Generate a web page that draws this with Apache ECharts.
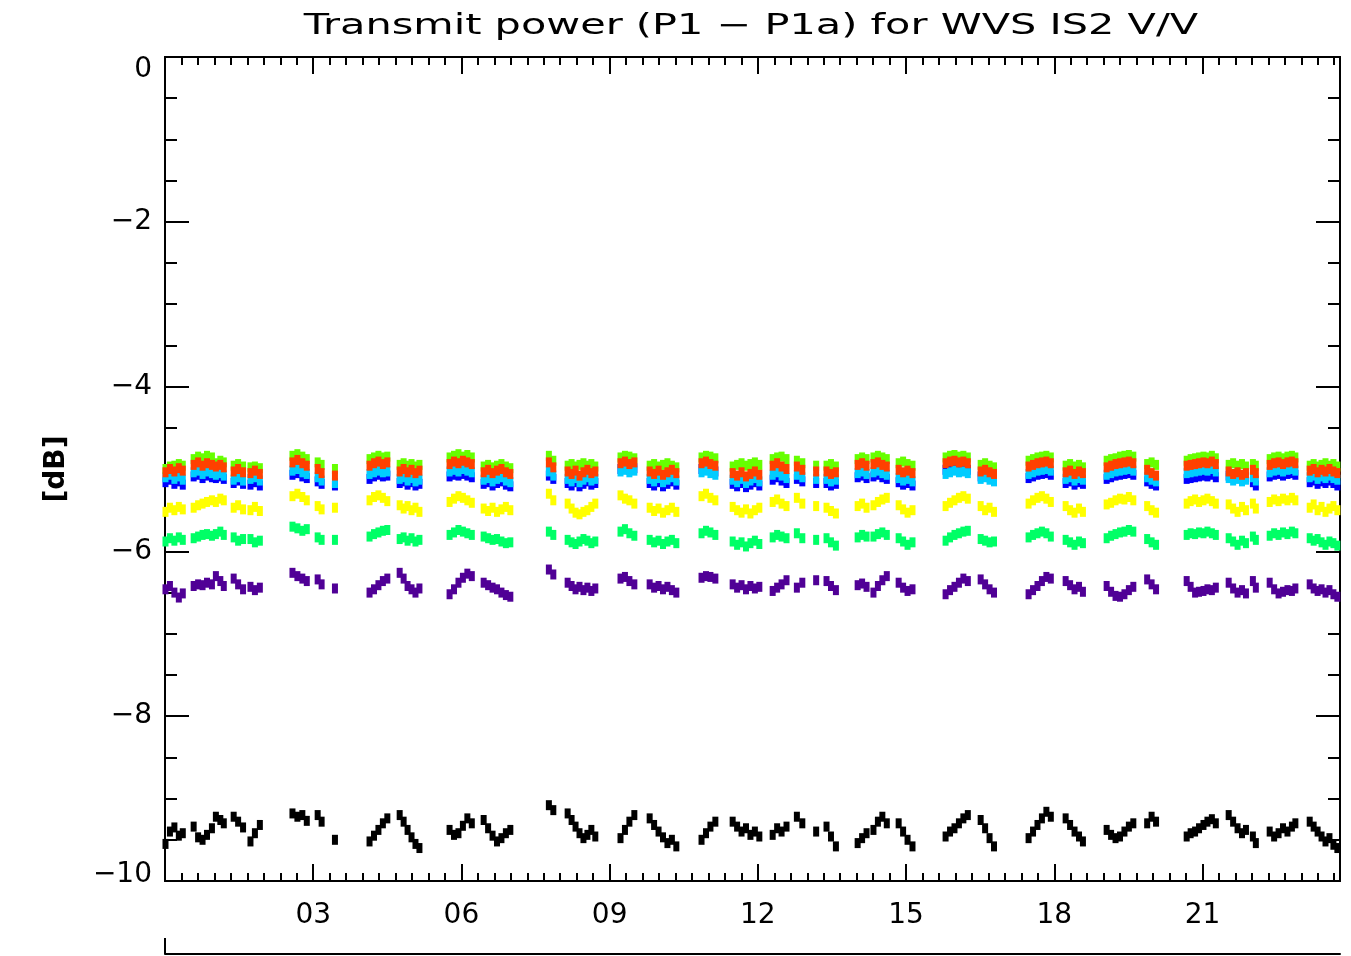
<!DOCTYPE html>
<html>
<head>
<meta charset="utf-8">
<script src="https://cdn.jsdelivr.net/npm/echarts@6/dist/echarts.min.js"></script>
<style>
  html, body { margin: 0; padding: 0; background: #ffffff; }
  #chart { width: 1351px; height: 956px; }
</style>
</head>
<body>
<div id="chart"></div>
<script>
// Sample times (hours of day), one row per pass
const hours = [
  0.01,0.10,0.19,0.28,0.36,
  0.58,0.67,0.76,0.85,0.95,
  1.03,1.12,1.19,
  1.39,1.48,1.58,
  1.73,1.82,1.92,
  2.58,2.68,2.78,2.87,
  3.09,3.17,
  3.44,
  4.14,4.23,4.32,4.41,4.50,
  4.75,4.83,4.91,4.99,5.07,5.15,
  5.76,5.85,5.94,6.03,6.12,6.21,
  6.45,6.54,6.63,6.72,6.81,6.90,6.99,
  7.77,7.86,
  8.15,8.23,8.31,8.39,8.47,8.55,8.63,8.71,
  9.22,9.31,9.40,9.50,
  9.81,9.90,9.99,10.08,10.17,10.26,10.35,
  10.86,10.95,11.04,11.14,
  11.49,11.58,11.67,11.76,11.85,11.94,12.03,
  12.30,12.39,12.48,12.58,
  12.79,12.90,
  13.18,
  13.39,13.48,13.58,
  14.02,14.11,14.20,
  14.34,14.43,14.52,14.61,
  14.85,14.94,15.03,15.13,
  15.80,15.89,15.98,16.07,16.16,16.25,
  16.51,16.60,16.69,16.78,
  17.48,17.57,17.66,17.75,17.84,17.93,
  18.23,18.32,18.41,18.50,18.58,
  19.06,19.15,19.24,19.33,19.42,19.51,19.60,
  19.88,19.97,20.06,
  20.68,20.76,20.85,20.93,21.02,21.10,21.19,21.27,
  21.53,21.62,21.71,21.80,21.88,
  22.02,22.08,
  22.36,22.45,22.54,22.63,22.72,22.81,22.88,
  23.17,23.25,23.33,23.41,23.49,23.57,23.65,23.73
];

// Power difference per trace [dB]
const limeTrace = [
  -5.00,-4.97,-4.96,-4.94,-4.96,
  -4.88,-4.85,-4.87,-4.84,-4.86,
  -4.93,-4.90,-4.92,
  -4.96,-4.94,-4.97,
  -4.98,-4.97,-4.99,
  -4.84,-4.82,-4.85,-4.88,
  -4.92,-4.95,
  -5.00,
  -4.88,-4.86,-4.84,-4.86,-4.85,
  -4.95,-4.93,-4.96,-4.94,-4.97,-4.95,
  -4.86,-4.84,-4.82,-4.85,-4.83,-4.86,
  -4.97,-4.95,-4.98,-4.96,-4.94,-4.97,-4.99,
  -4.84,-4.90,
  -4.96,-4.94,-4.97,-4.95,-4.93,-4.96,-4.94,-4.97,
  -4.86,-4.84,-4.85,-4.87,
  -4.96,-4.94,-4.97,-4.95,-4.93,-4.96,-4.98,
  -4.86,-4.84,-4.85,-4.87,
  -4.97,-4.95,-4.93,-4.96,-4.94,-4.92,-4.95,
  -4.88,-4.86,-4.85,-4.88,
  -4.90,-4.93,
  -4.96,
  -4.96,-4.94,-4.97,
  -4.88,-4.86,-4.88,
  -4.86,-4.84,-4.86,-4.88,
  -4.93,-4.91,-4.94,-4.96,
  -4.86,-4.84,-4.83,-4.85,-4.84,-4.86,
  -4.95,-4.93,-4.96,-4.98,
  -4.90,-4.88,-4.86,-4.85,-4.84,-4.86,
  -4.96,-4.94,-4.97,-4.95,-4.98,
  -4.90,-4.88,-4.87,-4.85,-4.84,-4.83,-4.85,
  -4.94,-4.92,-4.95,
  -4.90,-4.88,-4.87,-4.86,-4.85,-4.86,-4.84,-4.87,
  -4.95,-4.93,-4.96,-4.94,-4.97,
  -4.94,-4.96,
  -4.88,-4.86,-4.85,-4.87,-4.85,-4.84,-4.86,
  -4.96,-4.94,-4.97,-4.95,-4.93,-4.96,-4.94,-4.97
];

const redTrace = [
  -5.04,-5.00,-5.03,-4.99,-5.02,
  -4.95,-4.92,-4.96,-4.93,-4.95,
  -4.97,-4.95,-4.98,
  -5.03,-5.00,-5.04,
  -5.05,-5.02,-5.06,
  -4.92,-4.89,-4.93,-4.96,
  -5.00,-5.05,
  -5.08,
  -4.96,-4.93,-4.91,-4.94,-4.92,
  -5.03,-5.00,-5.04,-5.01,-5.05,-5.02,
  -4.94,-4.91,-4.93,-4.90,-4.92,-4.94,
  -5.04,-5.01,-5.05,-5.02,-5.00,-5.04,-5.06,
  -4.92,-4.98,
  -5.03,-5.06,-5.02,-5.08,-5.04,-5.01,-5.05,-5.03,
  -4.93,-4.91,-4.94,-4.92,
  -5.03,-5.06,-5.02,-5.07,-5.04,-5.01,-5.05,
  -4.93,-4.91,-4.94,-4.96,
  -5.05,-5.08,-5.04,-5.09,-5.06,-5.03,-5.07,
  -4.96,-4.93,-4.97,-5.00,
  -4.97,-5.01,
  -5.03,
  -5.03,-5.06,-5.04,
  -4.95,-4.93,-4.96,
  -4.94,-4.92,-4.95,-4.97,
  -5.01,-5.04,-5.02,-5.05,
  -4.93,-4.91,-4.90,-4.92,-4.91,-4.93,
  -5.03,-5.01,-5.04,-5.06,
  -4.97,-4.95,-4.93,-4.92,-4.91,-4.93,
  -5.04,-5.02,-5.06,-5.03,-5.05,
  -4.98,-4.96,-4.94,-4.93,-4.92,-4.91,-4.93,
  -5.01,-5.05,-5.08,
  -4.96,-4.95,-4.94,-4.93,-4.92,-4.93,-4.91,-4.94,
  -5.03,-5.06,-5.04,-5.07,-5.05,
  -5.01,-5.05,
  -4.95,-4.93,-4.92,-4.94,-4.92,-4.91,-4.93,
  -5.02,-5.00,-5.04,-5.01,-5.03,-5.00,-5.03,-5.05
];

const cyanTrace = [
  -5.10,-5.07,-5.12,-5.09,-5.13,
  -5.04,-5.02,-5.06,-5.03,-5.05,
  -5.07,-5.05,-5.08,
  -5.13,-5.10,-5.14,
  -5.12,-5.10,-5.14,
  -5.02,-5.00,-5.04,-5.06,
  -5.10,-5.14,
  -5.17,
  -5.06,-5.04,-5.02,-5.04,-5.03,
  -5.12,-5.10,-5.14,-5.11,-5.15,-5.13,
  -5.03,-5.01,-5.03,-5.00,-5.02,-5.04,
  -5.13,-5.11,-5.15,-5.12,-5.10,-5.14,-5.16,
  -5.03,-5.08,
  -5.12,-5.15,-5.11,-5.16,-5.13,-5.10,-5.14,-5.12,
  -5.03,-5.01,-5.04,-5.02,
  -5.12,-5.15,-5.11,-5.16,-5.13,-5.10,-5.14,
  -5.04,-5.02,-5.05,-5.07,
  -5.13,-5.16,-5.12,-5.17,-5.14,-5.11,-5.15,
  -5.07,-5.04,-5.08,-5.11,
  -5.07,-5.10,
  -5.12,
  -5.12,-5.15,-5.13,
  -5.05,-5.03,-5.06,
  -5.04,-5.02,-5.05,-5.07,
  -5.11,-5.14,-5.12,-5.15,
  -5.06,-5.04,-5.02,-5.04,-5.03,-5.05,
  -5.12,-5.10,-5.13,-5.15,
  -5.06,-5.04,-5.02,-5.01,-5.00,-5.02,
  -5.12,-5.10,-5.14,-5.11,-5.13,
  -5.07,-5.05,-5.03,-5.02,-5.01,-5.00,-5.02,
  -5.10,-5.13,-5.15,
  -5.05,-5.04,-5.03,-5.02,-5.01,-5.02,-5.00,-5.03,
  -5.11,-5.14,-5.12,-5.15,-5.13,
  -5.10,-5.14,
  -5.04,-5.02,-5.01,-5.03,-5.01,-5.00,-5.02,
  -5.10,-5.08,-5.12,-5.09,-5.11,-5.08,-5.11,-5.13
];

const blueTrace = [
  -5.16,-5.13,-5.18,-5.15,-5.19,
  -5.09,-5.07,-5.11,-5.08,-5.10,
  -5.11,-5.09,-5.12,
  -5.17,-5.14,-5.18,
  -5.19,-5.16,-5.20,
  -5.07,-5.05,-5.09,-5.11,
  -5.15,-5.18,
  -5.20,
  -5.12,-5.09,-5.07,-5.09,-5.08,
  -5.17,-5.15,-5.19,-5.16,-5.20,-5.18,
  -5.09,-5.07,-5.08,-5.06,-5.08,-5.10,
  -5.18,-5.16,-5.20,-5.17,-5.15,-5.19,-5.21,
  -5.08,-5.12,
  -5.17,-5.20,-5.16,-5.21,-5.18,-5.15,-5.19,-5.17,
  -5.00,-4.98,-5.01,-4.99,
  -5.17,-5.20,-5.16,-5.21,-5.18,-5.15,-5.19,
  -5.00,-4.98,-5.01,-5.03,
  -5.18,-5.21,-5.17,-5.22,-5.19,-5.16,-5.20,
  -5.13,-5.10,-5.14,-5.17,
  -5.12,-5.15,
  -5.17,
  -5.17,-5.20,-5.18,
  -5.10,-5.08,-5.11,
  -5.09,-5.07,-5.10,-5.12,
  -5.16,-5.19,-5.17,-5.20,
  -5.01,-4.99,-4.98,-5.00,-4.99,-5.01,
  -5.09,-5.07,-5.10,-5.12,
  -5.11,-5.09,-5.07,-5.06,-5.05,-5.07,
  -5.17,-5.15,-5.19,-5.16,-5.18,
  -5.12,-5.10,-5.08,-5.07,-5.06,-5.05,-5.07,
  -5.15,-5.18,-5.20,
  -5.12,-5.11,-5.10,-5.09,-5.08,-5.09,-5.07,-5.10,
  -5.08,-5.11,-5.09,-5.12,-5.10,
  -5.16,-5.20,
  -5.09,-5.07,-5.06,-5.08,-5.06,-5.05,-5.07,
  -5.16,-5.14,-5.18,-5.15,-5.17,-5.14,-5.17,-5.20
];

const yellowTrace = [
  -5.52,-5.47,-5.50,-5.46,-5.49,
  -5.47,-5.44,-5.42,-5.40,-5.38,
  -5.40,-5.36,-5.38,
  -5.47,-5.44,-5.49,
  -5.50,-5.46,-5.51,
  -5.33,-5.30,-5.34,-5.38,
  -5.45,-5.49,
  -5.47,
  -5.38,-5.34,-5.32,-5.35,-5.39,
  -5.44,-5.48,-5.45,-5.50,-5.47,-5.52,
  -5.40,-5.36,-5.33,-5.35,-5.38,-5.41,
  -5.48,-5.51,-5.47,-5.52,-5.49,-5.46,-5.50,
  -5.30,-5.38,
  -5.42,-5.48,-5.53,-5.55,-5.52,-5.50,-5.46,-5.42,
  -5.32,-5.36,-5.38,-5.42,
  -5.47,-5.51,-5.48,-5.53,-5.50,-5.47,-5.52,
  -5.33,-5.30,-5.35,-5.38,
  -5.46,-5.50,-5.53,-5.49,-5.54,-5.50,-5.47,
  -5.40,-5.37,-5.42,-5.45,
  -5.35,-5.42,
  -5.45,
  -5.47,-5.51,-5.54,
  -5.45,-5.42,-5.47,
  -5.44,-5.40,-5.37,-5.35,
  -5.44,-5.49,-5.53,-5.50,
  -5.45,-5.41,-5.38,-5.35,-5.33,-5.36,
  -5.45,-5.50,-5.47,-5.52,
  -5.42,-5.38,-5.35,-5.33,-5.36,-5.40,
  -5.45,-5.50,-5.53,-5.48,-5.52,
  -5.43,-5.41,-5.38,-5.36,-5.37,-5.34,-5.38,
  -5.45,-5.50,-5.53,
  -5.42,-5.39,-5.37,-5.40,-5.38,-5.36,-5.39,-5.42,
  -5.43,-5.48,-5.52,-5.46,-5.50,
  -5.42,-5.48,
  -5.40,-5.37,-5.39,-5.36,-5.38,-5.35,-5.38,
  -5.47,-5.43,-5.50,-5.46,-5.52,-5.48,-5.45,-5.50
];

const springTrace = [
  -5.88,-5.84,-5.87,-5.83,-5.86,
  -5.84,-5.82,-5.80,-5.79,-5.81,
  -5.79,-5.76,-5.80,
  -5.83,-5.87,-5.85,
  -5.85,-5.89,-5.87,
  -5.70,-5.72,-5.75,-5.73,
  -5.83,-5.86,
  -5.86,
  -5.82,-5.79,-5.77,-5.75,-5.74,
  -5.85,-5.83,-5.87,-5.84,-5.88,-5.86,
  -5.80,-5.77,-5.74,-5.76,-5.78,-5.80,
  -5.82,-5.84,-5.86,-5.85,-5.88,-5.90,-5.89,
  -5.76,-5.80,
  -5.86,-5.89,-5.91,-5.88,-5.85,-5.87,-5.90,-5.88,
  -5.76,-5.73,-5.78,-5.81,
  -5.86,-5.89,-5.87,-5.91,-5.88,-5.86,-5.90,
  -5.78,-5.75,-5.77,-5.80,
  -5.88,-5.92,-5.89,-5.94,-5.90,-5.87,-5.91,
  -5.83,-5.80,-5.82,-5.84,
  -5.78,-5.84,
  -5.86,
  -5.84,-5.89,-5.93,
  -5.83,-5.80,-5.82,
  -5.82,-5.79,-5.77,-5.80,
  -5.84,-5.88,-5.92,-5.89,
  -5.87,-5.83,-5.80,-5.78,-5.76,-5.75,
  -5.85,-5.87,-5.89,-5.88,
  -5.83,-5.80,-5.78,-5.76,-5.78,-5.82,
  -5.86,-5.89,-5.92,-5.88,-5.90,
  -5.84,-5.81,-5.79,-5.77,-5.76,-5.74,-5.76,
  -5.85,-5.89,-5.92,
  -5.80,-5.78,-5.79,-5.77,-5.78,-5.76,-5.78,-5.80,
  -5.84,-5.88,-5.92,-5.87,-5.90,
  -5.82,-5.86,
  -5.81,-5.78,-5.80,-5.77,-5.79,-5.76,-5.78,
  -5.84,-5.87,-5.85,-5.89,-5.92,-5.88,-5.90,-5.93
];

const purpleTrace = [
  -6.46,-6.42,-6.50,-6.56,-6.51,
  -6.42,-6.40,-6.41,-6.38,-6.40,
  -6.30,-6.36,-6.42,
  -6.33,-6.40,-6.46,
  -6.43,-6.47,-6.44,
  -6.26,-6.30,-6.33,-6.36,
  -6.34,-6.40,
  -6.45,
  -6.50,-6.46,-6.41,-6.36,-6.33,
  -6.26,-6.33,-6.42,-6.46,-6.50,-6.45,
  -6.52,-6.46,-6.38,-6.32,-6.27,-6.30,
  -6.38,-6.41,-6.44,-6.46,-6.50,-6.53,-6.55,
  -6.22,-6.28,
  -6.38,-6.42,-6.46,-6.43,-6.47,-6.44,-6.48,-6.45,
  -6.33,-6.31,-6.36,-6.40,
  -6.40,-6.44,-6.42,-6.46,-6.43,-6.47,-6.50,
  -6.32,-6.30,-6.31,-6.33,
  -6.40,-6.44,-6.41,-6.46,-6.42,-6.45,-6.43,
  -6.48,-6.44,-6.40,-6.35,
  -6.44,-6.38,
  -6.35,
  -6.36,-6.42,-6.47,
  -6.41,-6.39,-6.43,
  -6.50,-6.42,-6.35,-6.30,
  -6.38,-6.44,-6.48,-6.46,
  -6.52,-6.47,-6.43,-6.38,-6.33,-6.36,
  -6.34,-6.40,-6.46,-6.50,
  -6.52,-6.47,-6.42,-6.36,-6.31,-6.33,
  -6.36,-6.41,-6.46,-6.43,-6.49,
  -6.42,-6.49,-6.54,-6.55,-6.52,-6.47,-6.43,
  -6.34,-6.40,-6.46,
  -6.36,-6.43,-6.50,-6.49,-6.48,-6.46,-6.47,-6.44,
  -6.38,-6.45,-6.50,-6.47,-6.51,
  -6.36,-6.44,
  -6.38,-6.46,-6.51,-6.49,-6.47,-6.48,-6.45,
  -6.40,-6.45,-6.48,-6.46,-6.50,-6.47,-6.52,-6.55
];

const blackTrace = [
  -9.55,-9.40,-9.35,-9.45,-9.42,
  -9.34,-9.47,-9.50,-9.44,-9.36,
  -9.22,-9.26,-9.30,
  -9.22,-9.28,-9.35,
  -9.52,-9.42,-9.32,
  -9.18,-9.22,-9.20,-9.27,
  -9.20,-9.28,
  -9.50,
  -9.52,-9.45,-9.38,-9.30,-9.24,
  -9.20,-9.28,-9.38,-9.47,-9.55,-9.60,
  -9.38,-9.44,-9.42,-9.33,-9.24,-9.30,
  -9.26,-9.36,-9.45,-9.52,-9.48,-9.42,-9.38,
  -9.08,-9.14,
  -9.18,-9.26,-9.34,-9.42,-9.48,-9.44,-9.38,-9.46,
  -9.48,-9.38,-9.28,-9.20,
  -9.24,-9.32,-9.40,-9.47,-9.54,-9.50,-9.58,
  -9.50,-9.42,-9.34,-9.28,
  -9.28,-9.34,-9.40,-9.36,-9.44,-9.40,-9.46,
  -9.44,-9.36,-9.40,-9.34,
  -9.22,-9.30,
  -9.40,
  -9.34,-9.46,-9.58,
  -9.54,-9.48,-9.42,
  -9.38,-9.28,-9.22,-9.30,
  -9.30,-9.40,-9.50,-9.58,
  -9.46,-9.40,-9.36,-9.30,-9.24,-9.20,
  -9.26,-9.36,-9.48,-9.58,
  -9.48,-9.40,-9.32,-9.24,-9.16,-9.22,
  -9.24,-9.32,-9.40,-9.46,-9.52,
  -9.38,-9.44,-9.48,-9.46,-9.40,-9.34,-9.30,
  -9.30,-9.22,-9.28,
  -9.46,-9.42,-9.40,-9.36,-9.32,-9.28,-9.25,-9.30,
  -9.20,-9.28,-9.36,-9.42,-9.38,
  -9.46,-9.54,
  -9.40,-9.46,-9.42,-9.36,-9.40,-9.34,-9.30,
  -9.28,-9.34,-9.40,-9.46,-9.52,-9.48,-9.56,-9.60
];

// Axis tick labels
const hourTicks = [3, 6, 9, 12, 15, 18, 21];
const dbTicks = [0, -2, -4, -6, -8, -10];

// Traces in drawing order (later ones drawn on top)
const traces = [
  { values: blackTrace,  color: '#000000' },
  { values: purpleTrace, color: '#500096' },
  { values: springTrace, color: '#00ff66' },
  { values: yellowTrace, color: '#ffff00' },
  { values: blueTrace,   color: '#0000ff' },
  { values: cyanTrace,   color: '#00ccff' },
  { values: limeTrace,   color: '#66ff00' },
  { values: redTrace,    color: '#ff4000' }
];

const X_MAX = 1427;            // minutes shown on the time axis
const FONT = 'DejaVu Sans';
const LINE = { color: '#000', width: 2 };
const TITLE = 'Transmit power (P1 \u2212 P1a) for WVS IS2 V/V';

function timeAxis(position, interval, tickLen, labels) {
  return {
    type: 'value', position: position, min: 0, max: X_MAX, interval: interval,
    axisLine: { show: true, onZero: false, lineStyle: LINE },
    axisTick: { show: true, inside: true, length: tickLen, lineStyle: LINE },
    axisLabel: labels ? {
      show: true, margin: 21, fontFamily: FONT, fontSize: 28, color: '#000',
      showMinLabel: false, showMaxLabel: false,
      formatter: function (v) {
        const h = v / 60;
        return hourTicks.indexOf(h) >= 0 ? String(h).padStart(2, '0') : '';
      }
    } : { show: false },
    splitLine: { show: false }
  };
}

function dbAxis(position, labels) {
  return {
    type: 'value', position: position, min: -10, max: 0, interval: 2,
    axisLine: { show: true, onZero: false, lineStyle: LINE },
    axisTick: { show: true, inside: true, length: 24, lineStyle: LINE },
    minorTick: { show: true, splitNumber: 4, length: 12, lineStyle: LINE },
    splitLine: { show: false },
    minorSplitLine: { show: false },
    name: labels ? '[dB]' : '',
    nameLocation: 'middle', nameRotate: 90, nameGap: 94,
    nameTextStyle: { fontFamily: FONT, fontSize: 28, fontWeight: 'bold', color: '#000' },
    axisLabel: labels ? {
      show: true, margin: 13, fontFamily: FONT, fontSize: 28, color: '#000',
      formatter: function (v) {
        if (dbTicks.indexOf(v) < 0) return '';
        const s = v < 0 ? '\u2212' + Math.abs(v) : String(v);
        if (v === 0) return '{top|' + s + '}';
        if (v === -10) return '{bot|' + s + '}';
        return s;
      },
      rich: {
        top: { fontFamily: FONT, fontSize: 28, color: '#000', padding: [26, 0, 0, 0] },
        bot: { fontFamily: FONT, fontSize: 28, color: '#000', padding: [0, 0, 12, 0] }
      }
    } : { show: false }
  };
}

const xAxes = [
  timeAxis('bottom', 180, 17, true),
  timeAxis('bottom', 20, 8, false),
  timeAxis('top', 180, 17, false),
  timeAxis('top', 20, 8, false),
  {
    // lower date scale, only its start is visible
    type: 'value', position: 'bottom', offset: 73, min: 0, max: X_MAX,
    axisLine: { show: true, onZero: false, lineStyle: LINE },
    axisTick: { show: true, inside: true, length: 16, customValues: [0], lineStyle: LINE },
    axisLabel: { show: false },
    splitLine: { show: false }
  }
];

const chart = echarts.init(document.getElementById('chart'), null, { renderer: 'canvas' });

chart.setOption({
  animation: false,
  backgroundColor: '#ffffff',
  graphic: [{
    type: 'text',
    x: 751, y: 27, scaleX: 1.48, scaleY: 1,
    silent: true,
    style: {
      text: TITLE, fill: '#000',
      font: 'normal 28px "DejaVu Sans"',
      align: 'center', verticalAlign: 'middle'
    }
  }],
  grid: { left: 165, right: 11, top: 57, bottom: 75, containLabel: false, outerBoundsMode: 'none' },
  xAxis: xAxes,
  yAxis: [dbAxis('left', true), dbAxis('right', false)],
  series: traces.map(function (tr) {
    return {
      type: 'scatter',
      xAxisIndex: 0, yAxisIndex: 0,
      symbol: 'rect',
      symbolSize: [6, 10],
      silent: true,
      itemStyle: { color: tr.color, opacity: 1 },
      data: hours.map(function (h, i) { return [h * 60, tr.values[i]]; })
    };
  })
});
</script>
</body>
</html>
